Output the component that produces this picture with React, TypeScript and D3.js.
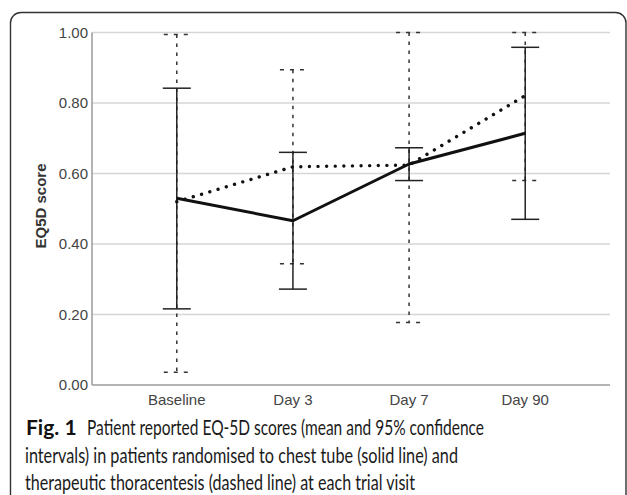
import React from "react";
import * as d3 from "d3";

const categories = ["Baseline", "Day 3", "Day 7", "Day 90"];
const chestMean = [0.53, 0.466, 0.627, 0.714];
const chestLow = [0.216, 0.272, 0.58, 0.47];
const chestHigh = [0.842, 0.66, 0.673, 0.958];
const thorMean = [0.52, 0.619, 0.624, 0.821];
const thorLow = [0.036, 0.344, 0.177, 0.58];
const thorHigh = [0.994, 0.894, 1.0, 1.0];
const yTicks = [0, 0.2, 0.4, 0.6, 0.8, 1.0];
const yLabel = "EQ5D score";
const captionBold = "Fig. 1";
const captionLines = [
  "Patient reported EQ-5D scores (mean and 95% confidence",
  "intervals) in patients randomised to chest tube (solid line) and",
  "therapeutic thoracentesis (dashed line) at each trial visit",
];

const W = 627;
const H = 495;

export default function App() {
  const x = d3.scalePoint<string>().domain(categories).range([92, 610]).padding(0.73);
  const y = d3.scaleLinear().domain([0, 1]).range([385, 32.5]);
  const xs = categories.map((c) => x(c) as number);
  const line = d3
    .line<number>()
    .x((_, i) => xs[i])
    .y((d) => y(d));
  const capW = 14;
  const font = "'Liberation Sans', Arial, sans-serif";
  const capFont = "Lato, 'Open Sans', sans-serif";
  return (
    <div style={{ position: "fixed", left: 0, top: 0, width: W, height: H, background: "#fff" }}>
      <svg width={W} height={H} viewBox={`0 0 ${W} ${H}`}>
        <rect width={W} height={H} fill="#fff" />
        <path
          d={`M10.5,${H + 5} V23 A10.5,10.5 0 0 1 21,12.5 H615.5 A10.5,10.5 0 0 1 626,23 V${H + 5}`}
          fill="none"
          stroke="#333"
          strokeWidth={1.4}
        />
        {/* gridlines */}
        {yTicks
          .filter((t) => t > 0)
          .map((t) => (
            <line key={t} x1={92} x2={610} y1={y(t)} y2={y(t)} stroke="#d6d6d6" strokeWidth={1.5} />
          ))}
        {/* axes */}
        <line x1={92} x2={92} y1={y(1)} y2={y(0)} stroke="#9a9a9a" strokeWidth={1.5} />
        <line x1={92} x2={610} y1={y(0)} y2={y(0)} stroke="#9a9a9a" strokeWidth={1.5} />
        {yTicks.map((t) => (
          <text
            key={t}
            x={88}
            y={y(t)}
            dy="0.36em"
            textAnchor="end"
            fontFamily={font}
            fontSize={15}
            fill="#444"
          >
            {t.toFixed(2)}
          </text>
        ))}
        {categories.map((c) => (
          <text key={c} x={x(c)} y={405} textAnchor="middle" fontFamily={font} fontSize={15} fill="#444">
            {c}
          </text>
        ))}
        <text
          transform={`translate(46,206) rotate(-90)`}
          textAnchor="middle"
          fontFamily={font}
          fontSize={15}
          fontWeight="bold"
          fill="#333"
        >
          {yLabel}
        </text>
        {/* thoracentesis error bars (dashed) */}
        {xs.map((cx, i) => (
          <g key={"t" + i} stroke="#333" strokeWidth={1.5} fill="none">
            <line x1={cx} x2={cx} y1={y(thorHigh[i])} y2={y(thorLow[i])} strokeDasharray="3.5 5.5" />
            <line x1={cx - capW + 1} x2={cx + capW} y1={y(thorHigh[i])} y2={y(thorHigh[i])} strokeDasharray="4 6" />
            <line x1={cx - capW + 1} x2={cx + capW} y1={y(thorLow[i])} y2={y(thorLow[i])} strokeDasharray="4 6" />
          </g>
        ))}
        {/* chest tube error bars (solid) */}
        {xs.map((cx, i) => (
          <g key={"c" + i} stroke="#222" strokeWidth={1.5} fill="none">
            <line x1={cx} x2={cx} y1={y(chestHigh[i])} y2={y(chestLow[i])} />
            <line x1={cx - capW} x2={cx + capW} y1={y(chestHigh[i])} y2={y(chestHigh[i])} />
            <line x1={cx - capW} x2={cx + capW} y1={y(chestLow[i])} y2={y(chestLow[i])} />
          </g>
        ))}
        <path
          d={line(thorMean) || ""}
          fill="none"
          stroke="#111"
          strokeWidth={3.4}
          strokeLinecap="round"
          strokeDasharray="0.01 8.6"
        />
        <path d={line(chestMean) || ""} fill="none" stroke="#111" strokeWidth={3} strokeLinejoin="round" />
        {/* caption */}
        <text x={26} y={435} fontFamily={capFont} fontSize={21} fontWeight="bold" fill="#111">
          {captionBold}
        </text>
        <text
          x={87}
          y={435}
          fontFamily={capFont}
          fontSize={21}
          fill="#1a1a1a"
          textLength={397}
          lengthAdjust="spacingAndGlyphs"
        >
          {captionLines[0]}
        </text>
        <text
          x={25}
          y={463}
          fontFamily={capFont}
          fontSize={21}
          fill="#1a1a1a"
          textLength={433}
          lengthAdjust="spacingAndGlyphs"
        >
          {captionLines[1]}
        </text>
        <text
          x={25}
          y={490}
          fontFamily={capFont}
          fontSize={21}
          fill="#1a1a1a"
          textLength={390}
          lengthAdjust="spacingAndGlyphs"
        >
          {captionLines[2]}
        </text>
      </svg>
    </div>
  );
}
